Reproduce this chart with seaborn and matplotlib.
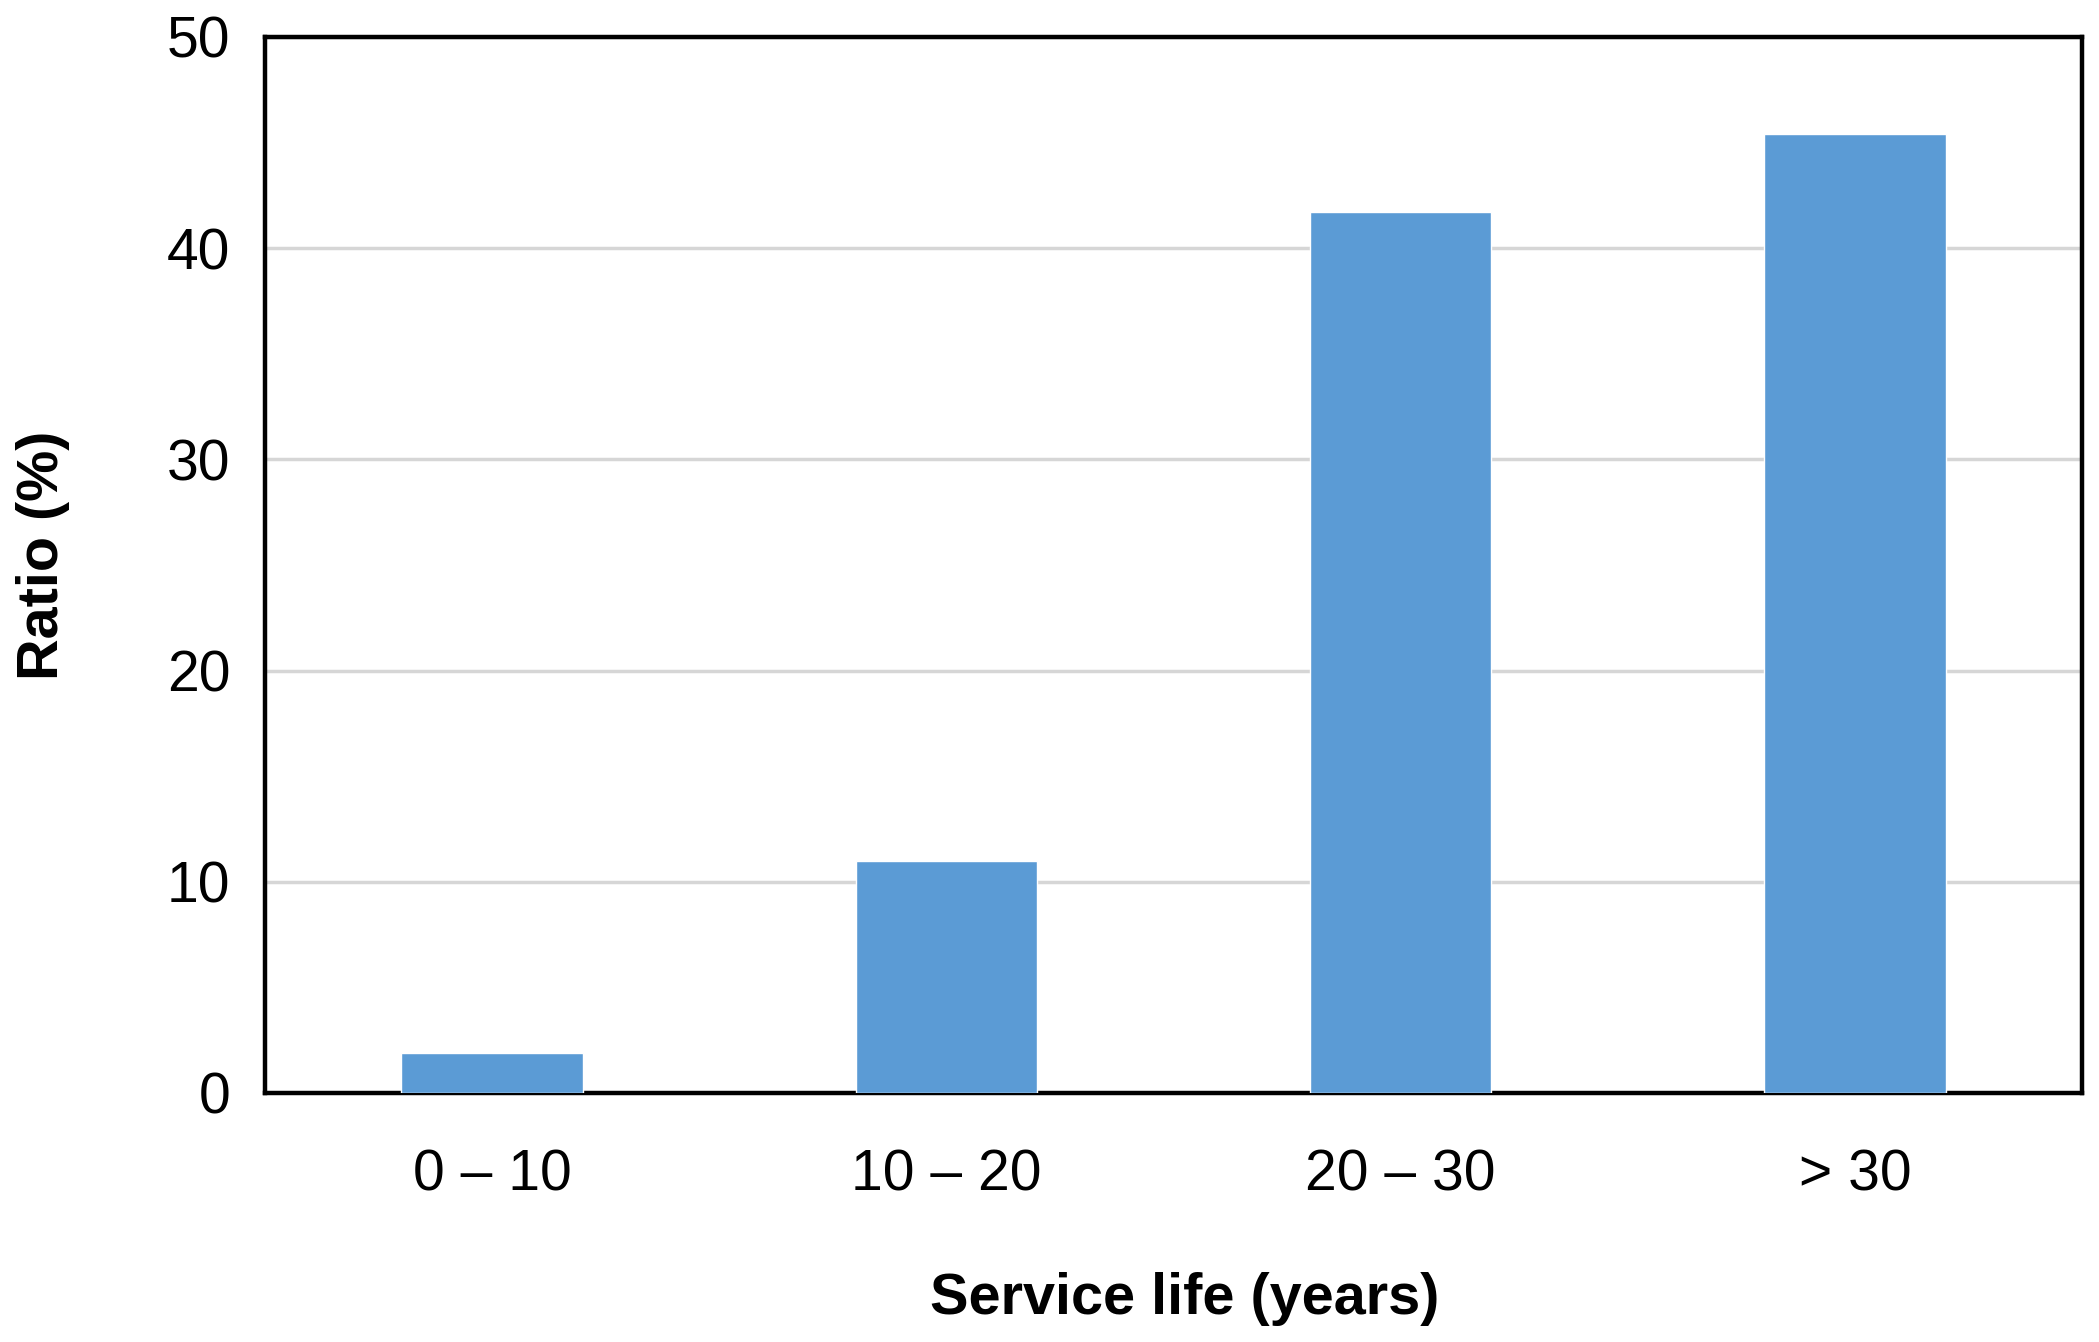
import matplotlib
matplotlib.use("Agg")
import matplotlib.pyplot as plt
import seaborn as sns
import pandas as pd

categories = ["0 – 10", "10 – 20", "20 – 30", "> 30"]
ratios = [1.9, 11.0, 41.7, 45.4]
y_ticks = [0, 10, 20, 30, 40, 50]

sns.set_theme(style="white")
plt.rcParams['font.family'] = ['Liberation Sans', 'DejaVu Sans']

df = pd.DataFrame({"Service life": categories, "Ratio": ratios})

fig = plt.figure(figsize=(20.99, 13.42), dpi=100)
ax = fig.add_axes([265/2099, 1 - 1093/1342, (2082-265)/2099, (1093-37)/1342])

sns.barplot(data=df, x="Service life", y="Ratio", color="#5B9BD5",
            saturation=1, width=0.4, ax=ax, zorder=3)

ax.set_ylim(0, 50)
ax.set_yticks(y_ticks)
ax.set_yticklabels([str(t) for t in y_ticks])
ax.yaxis.grid(True, color="#d6d6d6", linewidth=2.5, zorder=0)
ax.xaxis.grid(False)
ax.set_axisbelow(True)

for s in ax.spines.values():
    s.set_visible(True)
    s.set_color("black")
    s.set_linewidth(3.2)

ax.tick_params(axis="y", length=0, pad=25, labelsize=41, colors="black")
ax.tick_params(axis="x", length=0, pad=40, labelsize=41, colors="black")

ax.set_xlabel("Service life (years)", fontsize=41.5, fontweight="bold", color="black", va="center")
ax.set_ylabel("Ratio (%)", fontsize=41.5, fontweight="bold", color="black", va="center")
ax.xaxis.set_label_coords((1185 - 265) / 1817, (1093 - 1299) / 1056)
ax.yaxis.set_label_coords((43 - 265) / 1817, (1093 - 555) / 1056)

fig.savefig("out.png", dpi=100, facecolor="white")
